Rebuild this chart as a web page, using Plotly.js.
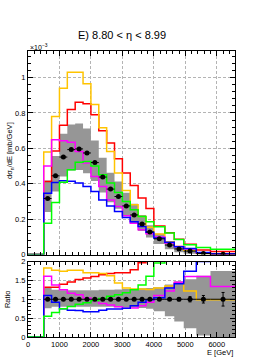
<!DOCTYPE html>
<html>
<head>
<meta charset="utf-8">
<script src="https://cdn.plot.ly/plotly-3.0.1.min.js"></script>
<style>html,body{margin:0;padding:0;background:#fff;}#chart{width:277px;height:358px;}</style>
</head>
<body>
<div id="chart"></div>
<script>
// Bin edges [GeV]
const edges = [500,750,1000,1250,1500,1750,2000,2250,2500,2750,3000,3250,3500,3750,4000,4350,4650,4950,5350,5800,6600];
// Data, dsigma/dE in units of 1e-3 mb/GeV
const dataVals = [0.317,0.445,0.551,0.593,0.597,0.574,0.520,0.438,0.370,0.328,0.275,0.224,0.173,0.128,0.089,0.054,0.032,0.020,0.006,0.002];
// relative stat error
const dataRelErr = [0.01,0.01,0.01,0.01,0.01,0.01,0.01,0.01,0.01,0.01,0.01,0.01,0.015,0.015,0.02,0.03,0.04,0.07,0.10,0.18];
// systematic band (ratio units)
const bandUp = [1.32,1.25,1.24,1.24,1.24,1.24,1.24,1.25,1.25,1.26,1.27,1.28,1.29,1.30,1.32,1.39,1.48,1.53,1.62,1.75];
const bandLo = [0.76,0.80,0.80,0.80,0.80,0.80,0.80,0.80,0.80,0.79,0.79,0.78,0.77,0.75,0.68,0.55,0.41,0.23,0.04,0.0];
// Models, top panel (1e-3 mb/GeV)
const redTop = [0.413,0.585,0.73,0.82,0.861,0.852,0.79,0.70,0.63,0.542,0.461,0.39,0.32,0.26,0.162,0.124,0.087,0.058,0.026,0.018];
const yellowTop = [0.58,0.78,0.94,1.03,1.03,0.965,0.848,0.716,0.583,0.461,0.362,0.281,0.215,0.155,0.117,0.073,0.046,0.024,0.006,0.002];
const magentaTop = [0.50,0.649,0.643,0.634,0.583,0.517,0.441,0.385,0.309,0.271,0.219,0.177,0.140,0.118,0.099,0.066,0.046,0.032,0.010,0.003];
const blueTop = [0.347,0.407,0.417,0.415,0.404,0.385,0.356,0.309,0.274,0.243,0.209,0.185,0.159,0.126,0.094,0.07,0.045,0.035,0.012,0.005];
const greenTop = [0.177,0.294,0.408,0.479,0.522,0.526,0.500,0.451,0.404,0.351,0.300,0.253,0.215,0.185,0.158,0.122,0.085,0.055,0.04,0.03];
// Models, ratio panel (MC / data)
const redRatio = [1.32,1.32,1.40,1.46,1.52,1.56,1.60,1.65,1.68,1.70,1.70,1.78,1.97,2.1,2.2,2.5,2.8,2.9,4.0,9.0];
const yellowRatio = [1.83,1.77,1.74,1.77,1.77,1.70,1.70,1.68,1.62,1.43,1.30,1.27,1.27,1.26,1.30,1.35,1.44,1.22,0.99,0.99];
const magentaRatio = [1.61,1.38,1.25,1.16,1.12,1.03,0.94,0.89,0.85,0.80,0.76,0.77,0.83,0.92,1.10,1.22,1.45,1.60,1.60,1.34];
const blueRatio = [1.10,0.92,0.75,0.71,0.70,0.67,0.67,0.71,0.74,0.74,0.76,0.83,0.92,0.99,1.04,1.30,1.41,1.74,2.0,2.3];
const greenRatio = [0.55,0.65,0.75,0.81,0.87,0.91,0.96,1.02,1.08,1.12,1.17,1.25,1.38,1.61,1.96,2.3,2.6,2.8,6,15];

const xTickVals = [0,1000,2000,3000,4000,5000,6000];
const topTickVals = [0,0.2,0.4,0.6,0.8,1];
const topTickText = ['0','0.2','0.4','0.6','0.8','1'];
const ratioTickVals = [0,0.5,1,1.5,2];
const ratioTickText = ['0','0.5','1','1.5','2'];

const centers = edges.slice(0,-1).map((e,i)=>(e+edges[i+1])/2);
const halfW = edges.slice(0,-1).map((e,i)=>(edges[i+1]-e)/2);
const stepX = [0].concat(edges);
const stepY = v => [0].concat(v, [v[v.length-1]]);
const bandY = v => v.concat([v[v.length-1]]);

const W=277,H=358, L=28, R=235.5, T=51, B=337;
const px = x => (x-L)/(R-L);
const py = y => (B-y)/(B-T);

const models = [
  {top: redTop, ratio: redRatio, color:'#ff0000'},
  {top: yellowTop, ratio: yellowRatio, color:'#ffc400'},
  {top: magentaTop, ratio: magentaRatio, color:'#ff00ff'},
  {top: blueTop, ratio: blueRatio, color:'#0000ff'},
  {top: greenTop, ratio: greenRatio, color:'#00ff00'}
];

const traces = [];
traces.push({x: edges, y: bandY(dataVals.map((v,i)=>v*bandLo[i])), xaxis:'x2', yaxis:'y2', mode:'lines', line:{width:0, shape:'hv'}, hoverinfo:'skip', showlegend:false});
traces.push({x: edges, y: bandY(dataVals.map((v,i)=>v*bandUp[i])), xaxis:'x2', yaxis:'y2', mode:'lines', fill:'tonexty', fillcolor:'rgb(150,150,150)', line:{width:0, shape:'hv'}, hoverinfo:'skip', showlegend:false});
traces.push({x: edges, y: bandY(bandLo), xaxis:'x', yaxis:'y', mode:'lines', line:{width:0, shape:'hv'}, hoverinfo:'skip', showlegend:false});
traces.push({x: edges, y: bandY(bandUp), xaxis:'x', yaxis:'y', mode:'lines', fill:'tonexty', fillcolor:'rgb(150,150,150)', line:{width:0, shape:'hv'}, hoverinfo:'skip', showlegend:false});

models.forEach(m=>{
  traces.push({x: stepX, y: stepY(m.top), xaxis:'x2', yaxis:'y2', mode:'lines', line:{color:m.color, width:1.5, shape:'hv'}, showlegend:false});
  traces.push({x: stepX, y: stepY(m.ratio), xaxis:'x', yaxis:'y', mode:'lines', line:{color:m.color, width:1.5, shape:'hv'}, showlegend:false});
});

traces.push({x: centers, y: dataVals, xaxis:'x2', yaxis:'y2', mode:'markers', marker:{color:'black', size:5},
  error_x:{type:'data', array: halfW, color:'black', thickness:1, width:0},
  error_y:{type:'data', array: dataVals.map((v,i)=>v*dataRelErr[i]), color:'black', thickness:1, width:0}, showlegend:false});
traces.push({x: centers, y: dataVals.map(()=>1), xaxis:'x', yaxis:'y', mode:'markers', marker:{color:'black', size:5},
  error_x:{type:'data', array: halfW, color:'black', thickness:1, width:0},
  error_y:{type:'data', array: dataRelErr, color:'black', thickness:1, width:1.5}, showlegend:false});

const font = {family:'Liberation Sans, Arial, sans-serif', size:7.5, color:'black'};
const axCommon = {showline:true, linecolor:'black', linewidth:1, mirror:'ticks', ticks:'inside', ticklen:5, tickcolor:'black',
  showgrid:true, gridcolor:'#b4b4b4', griddash:'3px,2px', gridwidth:1, zeroline:false, tickfont:font};

const layout = {
  width:W, height:H,
  margin:{l:L, r:W-R, t:T, b:H-B, pad:0},
  paper_bgcolor:'white', plot_bgcolor:'white',
  font: font,
  showlegend:false,
  title:{text:'E) 8.80 &lt; η &lt; 8.99', font:{family:'Liberation Sans, Arial, sans-serif', size:11, color:'black'},
    x:78/W, xanchor:'left', y:1-35/H, yanchor:'middle', xref:'container', yref:'container'},
  xaxis: Object.assign({}, axCommon, {domain:[0,1], range:[0,6580], anchor:'y', tickvals:xTickVals, ticktext:xTickVals.map(String),
    minor:{dtick:200, tick0:0, ticks:'inside', ticklen:3, tickcolor:'black', showgrid:false}}),
  yaxis: Object.assign({}, axCommon, {domain:[0, py(261.5)], range:[0,2], anchor:'x', tickvals:ratioTickVals, ticktext:ratioTickText,
    minor:{dtick:0.1, tick0:0, ticks:'inside', ticklen:3, tickcolor:'black', showgrid:false}}),
  xaxis2: Object.assign({}, axCommon, {domain:[0,1], range:[0,6580], anchor:'y2', matches:'x', tickvals:xTickVals, showticklabels:false,
    minor:{dtick:200, tick0:0, ticks:'inside', ticklen:3, tickcolor:'black', showgrid:false}}),
  yaxis2: Object.assign({}, axCommon, {domain:[py(254.6), 1], range:[0,1.15], anchor:'x2', tickvals:topTickVals, ticktext:topTickText,
    minor:{dtick:0.04, tick0:0, ticks:'inside', ticklen:3, tickcolor:'black', showgrid:false}}),
  annotations:[
    {text:'×10<sup>−3</sup>', xref:'paper', yref:'paper', x:0, y:py(47), xanchor:'left', yanchor:'middle', showarrow:false, font:{family:font.family, size:7, color:'black'}},
    {text:'dσ<sub>n</sub>/dE [mb/GeV]', xref:'paper', yref:'paper', x:px(10), y:py(151), xanchor:'center', yanchor:'middle', textangle:-90, showarrow:false, font:font},
    {text:'Ratio', xref:'paper', yref:'paper', x:px(7), y:py(299), xanchor:'center', yanchor:'middle', textangle:-90, showarrow:false, font:font},
    {text:'E [GeV]', xref:'paper', yref:'paper', x:1, y:py(352), xanchor:'right', yanchor:'middle', showarrow:false, font:font}
  ]
};

Plotly.newPlot('chart', traces, layout, {staticPlot:true, displayModeBar:false});
</script>
</body>
</html>
